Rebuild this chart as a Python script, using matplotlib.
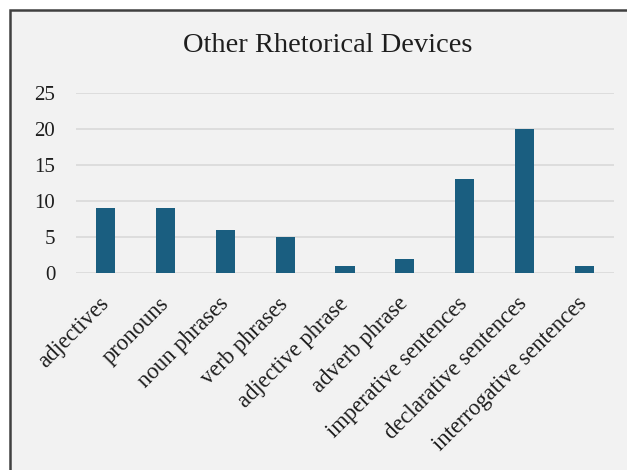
import matplotlib
matplotlib.use("Agg")
from matplotlib import pyplot as plt
from matplotlib.patches import Rectangle

categories = ["adjectives", "pronouns", "noun phrases", "verb phrases",
              "adjective phrase", "adverb phrase", "imperative sentences",
              "declarative sentences", "interrogative sentences"]
counts = [9, 9, 6, 5, 1, 2, 13, 20, 1]
y_ticks = [0, 5, 10, 15, 20, 25]

plt.rcParams["font.family"] = ["Liberation Serif", "DejaVu Serif"]

fig = plt.figure(figsize=(6.27, 4.70), dpi=100, facecolor="white")
# chart area background with dark frame (right/bottom run off the image)
fig.patches.append(Rectangle((10 / 627, -0.05), 1.1, 1.05 - 10 / 470,
                             transform=fig.transFigure, facecolor="#F2F2F2",
                             edgecolor="#404040", linewidth=1.8, zorder=-5))

ax = fig.add_axes([76 / 627, 1 - 273 / 470, 538 / 627, 180 / 470])
ax.set_facecolor("none")
x = range(len(categories))
ax.bar(x, counts, width=0.32, color="#1A5E80", zorder=3)
ax.set_xlim(-0.5, len(categories) - 0.5)
ax.set_ylim(0, 25)
ax.set_yticks(y_ticks)
ax.yaxis.grid(True, color="#D9D9D9", linewidth=1.2)
for s in ax.spines.values():
    s.set_visible(False)
ax.tick_params(axis="both", length=0, colors="#1E1E1E")
ax.tick_params(axis="y", pad=15, labelsize=15)
ax.set_xticks(list(x))
ax.set_xticklabels(categories, rotation=45, ha="right", va="center",
                   rotation_mode="anchor", fontsize=16.3)
ax.tick_params(axis="x", pad=20)

fig.text(328 / 627, 1 - 45 / 470, "Other Rhetorical Devices", ha="center",
         va="center", fontsize=20.5, color="#1E1E1E")

plt.savefig("out.png", dpi=100)
